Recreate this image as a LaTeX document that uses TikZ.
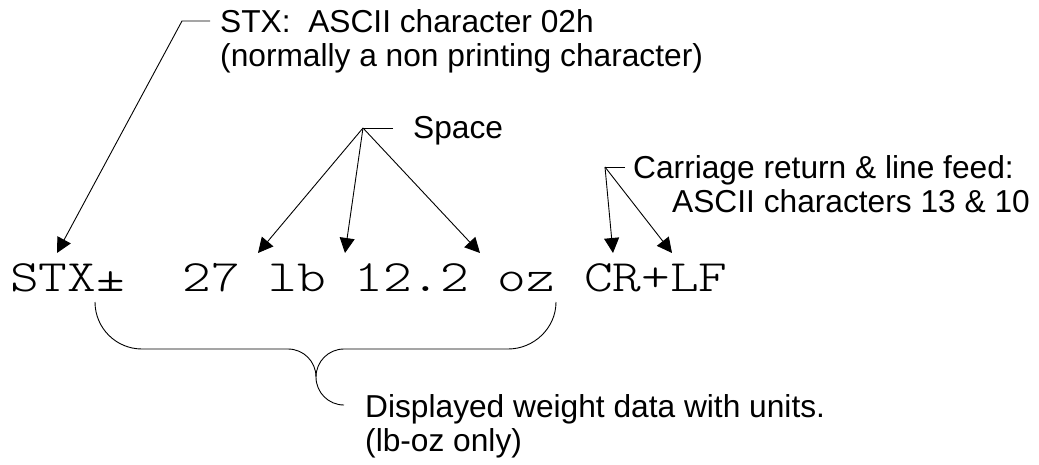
\documentclass[tikz,border=0pt]{standalone}
\usepackage{fontspec}
\setmainfont{Liberation Sans}
\newfontfamily\courierish[FakeStretch=1.22]{lmmonolt10-regular.otf}
\usetikzlibrary{arrows.meta}

\begin{document}
\begin{tikzpicture}
		[
			x=1pt, y=-1pt,
			% Make a style for the notes.
			notetext/.style={inner sep=0pt, align=left, anchor=north west, font=\fontsize{31.7}{34}\selectfont},
			% And one for the data line.
			dataline/.style={inner sep=0pt, anchor=base west, font=\fontsize{44.8}{48}\selectfont\courierish},
			% Thin lines, and the ones ending in a filled arrow.
			thinline/.style={line width=0.9pt},
			leaderline/.style={thinline, -{Triangle[length=15pt,width=15pt]}}
		]
			\useasboundingbox (0,0) rectangle (1039,464);
			
			\node[dataline] (line) at (10,291) {STX±\ \ 27 lb 12.2 oz CR+LF};
			
			\node[notetext] (stxnote) at (220,9.3) {STX:\ \ ASCII character 02h\\(normally a non printing character)};
			\node[notetext] (spacenote) at (413,116) {Space};
			\node[notetext] (crlfnote) at (633,155) {Carriage return \& line feed:\\\hspace*{39pt}ASCII characters 13 \& 10};
			\node[notetext] (unitnote) at (365,394) {Displayed weight data with units.\\(lb-oz only)};
			
			% Ends of the leader lines.
			\coordinate (stxend) at (210,21);
			\coordinate (stxknee) at (182,21);
			\coordinate (stxtip) at (57,253);
			\coordinate (spaceend) at (393,128);
			\coordinate (spaceknee) at (363,128);
			\coordinate (spacea) at (258,253);
			\coordinate (spaceb) at (345,253);
			\coordinate (spacec) at (480,253);
			\coordinate (crlfend) at (625,167);
			\coordinate (crlfknee) at (605,167);
			\coordinate (crtip) at (613,253);
			\coordinate (lftip) at (672,253);
			
			% Draw leaders.
			\draw[leaderline] (stxend) -- (stxknee) -- (stxtip);
			\draw[thinline] (spaceend) -- (spaceknee);
			\foreach \t in {a,b,c}
				\draw[leaderline] (spaceknee) -- (space\t);
			\draw[thinline] (crlfend) -- (crlfknee);
			\draw[leaderline] (crlfknee) -- (crtip);
			\draw[leaderline] (crlfknee) -- (lftip);
			
			% Draw brace under the weight.
			\draw[thinline] (95,302) .. controls (95,328) and (116,349) .. (142,349) -- (288,349)
				.. controls (303.5,349) and (316,361.5) .. (316,377)
				.. controls (316,392.5) and (328.5,405) .. (344,405);
			\draw[thinline] (316,377) .. controls (316,361.5) and (328.5,349) .. (344,349) -- (508,349)
				.. controls (534,349) and (556,328) .. (556,302);
		\end{tikzpicture}
\end{document}
